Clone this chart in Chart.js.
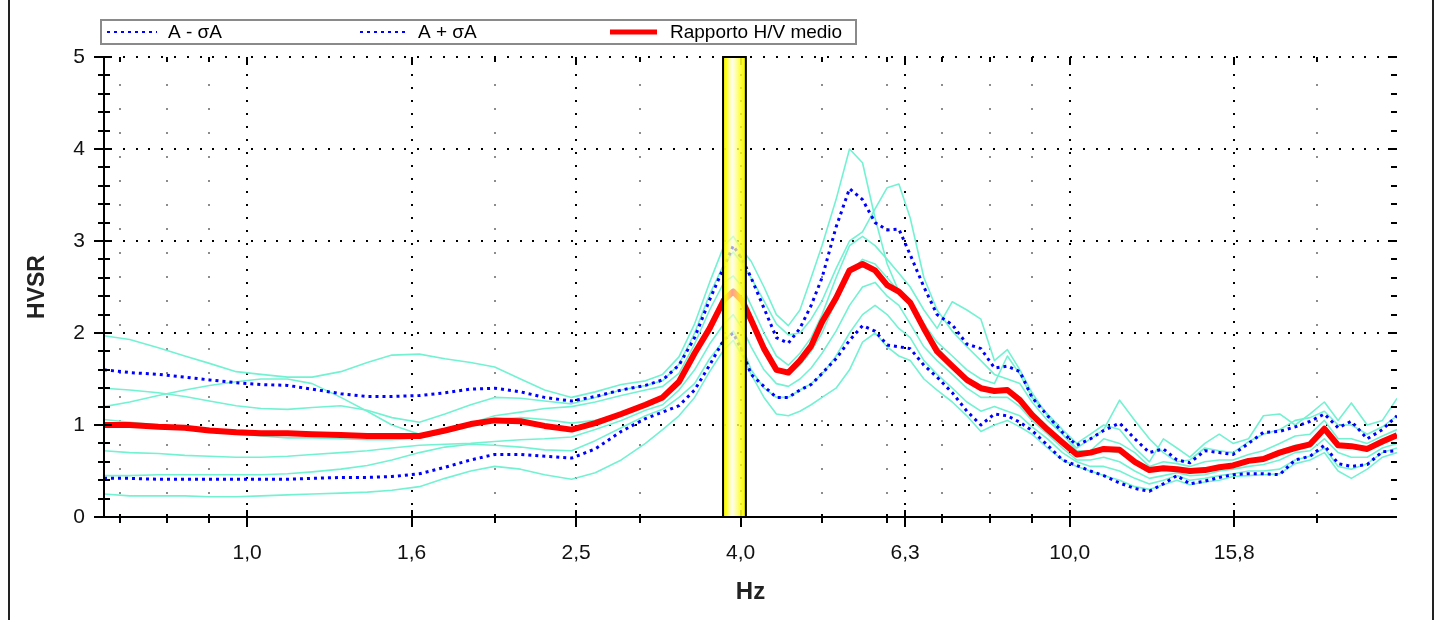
<!DOCTYPE html>
<html>
<head>
<meta charset="utf-8">
<script src="https://cdn.jsdelivr.net/npm/chart.js@4.4.1/dist/chart.umd.min.js"></script>
<style>
  html, body { margin: 0; padding: 0; background: #fff; }
  #wrap { position: relative; width: 1444px; height: 620px; }
  #frame { position: absolute; left: 8px; top: 0; width: 1426px; height: 620px;
           border-left: 2px solid #222; border-right: 2px solid #222;
           box-sizing: border-box; pointer-events: none; }
</style>
</head>
<body>
<div id="wrap">
  <canvas id="hvsr" width="1444" height="620"></canvas>
  <div id="frame"></div>
</div>
<script>
// Frequencies (Hz) shared by every curve
const freq = [0.67, 0.72, 0.78, 0.84, 0.90, 0.97, 1.04, 1.12, 1.20, 1.30,
  1.40, 1.50, 1.62, 1.74, 1.87, 2.00, 2.15, 2.30, 2.48, 2.65,
  2.85, 3.05, 3.20, 3.35, 3.50, 3.65, 3.80, 3.90, 4.00, 4.10,
  4.25, 4.40, 4.55, 4.70, 4.85, 5.00, 5.20, 5.40, 5.60, 5.80,
  6.00, 6.20, 6.40, 6.65, 6.90, 7.20, 7.50, 7.80, 8.10, 8.40,
  8.70, 9.00, 9.40, 9.80, 10.2, 10.6, 11.0, 11.5, 12.0, 12.5,
  13.0, 13.5, 14.0, 14.6, 15.2, 15.8, 16.5, 17.2, 18.0, 18.8,
  19.6, 20.4, 21.2, 22.0, 23.0, 24.0, 25.0];

// Mean H/V ratio
const hvMean = [1.00, 1.00, 0.98, 0.97, 0.94, 0.92, 0.91, 0.91, 0.90, 0.89,
  0.88, 0.88, 0.88, 0.94, 1.01, 1.05, 1.04, 0.99, 0.95, 1.02,
  1.12, 1.22, 1.30, 1.47, 1.78, 2.05, 2.36, 2.45, 2.35, 2.14,
  1.83, 1.60, 1.57, 1.70, 1.86, 2.12, 2.38, 2.68, 2.75, 2.68,
  2.52, 2.45, 2.33, 2.05, 1.80, 1.64, 1.49, 1.40, 1.37, 1.38,
  1.27, 1.11, 0.95, 0.81, 0.68, 0.70, 0.74, 0.73, 0.60, 0.51,
  0.53, 0.52, 0.50, 0.51, 0.54, 0.56, 0.61, 0.63, 0.70, 0.75,
  0.79, 0.96, 0.78, 0.77, 0.74, 0.82, 0.89];

// A + sigma A
const hvPlus = [1.60, 1.57, 1.55, 1.52, 1.49, 1.46, 1.44, 1.43, 1.39, 1.34,
  1.31, 1.31, 1.32, 1.35, 1.39, 1.40, 1.36, 1.30, 1.26, 1.31,
  1.38, 1.43, 1.49, 1.65, 1.95, 2.36, 2.72, 2.95, 2.80, 2.60,
  2.27, 1.95, 1.89, 2.05, 2.30, 2.60, 3.15, 3.57, 3.45, 3.20,
  3.12, 3.13, 2.85, 2.50, 2.20, 2.09, 1.88, 1.83, 1.62, 1.64,
  1.58, 1.30, 1.10, 0.92, 0.78, 0.85, 0.94, 1.02, 0.85, 0.70,
  0.74, 0.62, 0.59, 0.72, 0.70, 0.68, 0.80, 0.92, 0.93, 0.98,
  1.04, 1.12, 0.97, 1.04, 0.85, 0.95, 1.10];

// A - sigma A
const hvMinus = [0.42, 0.42, 0.41, 0.41, 0.41, 0.41, 0.41, 0.41, 0.42, 0.43,
  0.43, 0.44, 0.47, 0.54, 0.62, 0.68, 0.68, 0.66, 0.64, 0.74,
  0.93, 1.07, 1.14, 1.21, 1.38, 1.65, 1.93, 2.00, 1.80, 1.55,
  1.42, 1.30, 1.30, 1.38, 1.44, 1.56, 1.72, 1.92, 2.08, 2.02,
  1.87, 1.85, 1.83, 1.65, 1.52, 1.35, 1.15, 1.00, 1.12, 1.10,
  1.03, 0.94, 0.78, 0.62, 0.56, 0.50, 0.45, 0.37, 0.31, 0.28,
  0.36, 0.45, 0.36, 0.39, 0.43, 0.46, 0.47, 0.47, 0.46, 0.62,
  0.66, 0.78, 0.58, 0.55, 0.57, 0.71, 0.72];

// Single-window H/V curves
const win1 = [1.97, 1.93, 1.84, 1.75, 1.67, 1.58, 1.55, 1.52, 1.52, 1.58,
  1.68, 1.76, 1.77, 1.72, 1.68, 1.63, 1.50, 1.38, 1.30, 1.36,
  1.44, 1.48, 1.55, 1.74, 2.10, 2.55, 2.95, 3.05, 2.90, 2.78,
  2.50, 2.20, 2.08, 2.25, 2.60, 2.95, 3.45, 4.00, 3.85, 3.25,
  2.75, 2.45, 2.30, 2.10, 1.90, 1.75, 1.60, 1.50, 1.45, 1.75,
  1.55, 1.30, 1.12, 0.95, 0.80, 0.90, 1.00, 0.95, 0.75, 0.60,
  0.85, 0.75, 0.65, 0.80, 0.90, 0.80, 0.85, 1.10, 1.12, 1.00,
  1.12, 1.25, 1.05, 1.24, 1.00, 1.05, 1.29];
const win2 = [1.40, 1.38, 1.35, 1.31, 1.26, 1.21, 1.18, 1.17, 1.19, 1.21,
  1.16, 1.08, 1.03, 1.12, 1.22, 1.30, 1.29, 1.26, 1.23, 1.30,
  1.38, 1.43, 1.48, 1.66, 2.00, 2.42, 2.75, 2.88, 2.75, 2.60,
  2.35, 2.10, 1.98, 2.00, 2.15, 2.35, 2.70, 3.00, 3.10, 3.35,
  3.58, 3.62, 3.25, 2.60, 2.25, 2.02, 1.85, 1.70, 1.55, 1.50,
  1.45, 1.25, 1.05, 0.90, 0.75, 0.85, 0.95, 1.27, 1.05, 0.85,
  0.70, 0.60, 0.62, 0.75, 0.72, 0.70, 0.82, 0.90, 0.95, 1.05,
  1.08, 1.15, 1.00, 1.00, 0.90, 0.98, 1.10];
const win3 = [1.20, 1.25, 1.32, 1.38, 1.43, 1.47, 1.50, 1.50, 1.45, 1.30,
  1.15, 1.00, 0.90, 0.95, 1.02, 1.10, 1.14, 1.18, 1.20, 1.25,
  1.32, 1.38, 1.42, 1.56, 1.88, 2.25, 2.55, 2.62, 2.50, 2.30,
  2.00, 1.75, 1.65, 1.78, 1.95, 2.20, 2.60, 2.95, 3.05, 2.95,
  2.80, 2.65, 2.50, 2.25, 2.05, 2.34, 2.25, 2.15, 1.70, 1.82,
  1.60, 1.35, 1.10, 0.90, 0.72, 0.72, 0.85, 0.80, 0.70, 0.55,
  0.60, 0.58, 0.55, 0.60, 0.62, 0.62, 0.68, 0.72, 0.80, 0.88,
  0.90, 1.05, 0.85, 0.85, 0.80, 0.88, 0.95];
const win4 = [1.06, 1.03, 1.00, 0.96, 0.93, 0.90, 0.88, 0.86, 0.86, 0.85,
  0.84, 0.84, 0.86, 0.92, 0.98, 1.06, 1.08, 1.06, 1.02, 1.05,
  1.12, 1.20, 1.28, 1.46, 1.75, 2.10, 2.38, 2.48, 2.30, 2.10,
  1.80, 1.60, 1.55, 1.65, 1.80, 2.00, 2.35, 2.65, 2.80, 2.75,
  2.60, 2.45, 2.30, 2.05, 1.85, 1.65, 1.50, 1.40, 1.38, 1.40,
  1.30, 1.15, 0.98, 0.82, 0.68, 0.70, 0.72, 0.70, 0.60, 0.50,
  0.52, 0.52, 0.50, 0.52, 0.55, 0.57, 0.62, 0.65, 0.72, 0.78,
  0.80, 0.95, 0.78, 0.75, 0.72, 0.80, 0.88];
const win5 = [0.72, 0.70, 0.69, 0.67, 0.66, 0.65, 0.65, 0.66, 0.68, 0.70,
  0.72, 0.75, 0.78, 0.79, 0.80, 0.82, 0.84, 0.85, 0.87, 0.95,
  1.05, 1.16, 1.22, 1.38, 1.60, 1.88, 2.10, 2.20, 2.05, 1.85,
  1.60, 1.45, 1.42, 1.50, 1.62, 1.78, 2.02, 2.30, 2.50, 2.55,
  2.40, 2.30, 2.10, 1.85, 1.70, 1.55, 1.40, 1.30, 1.30, 1.30,
  1.20, 1.05, 0.90, 0.75, 0.62, 0.62, 0.65, 0.60, 0.50, 0.42,
  0.45, 0.48, 0.45, 0.46, 0.50, 0.52, 0.55, 0.57, 0.62, 0.70,
  0.72, 0.85, 0.70, 0.65, 0.65, 0.75, 0.80];
const win6 = [0.45, 0.45, 0.46, 0.46, 0.46, 0.46, 0.46, 0.47, 0.49, 0.52,
  0.56, 0.62, 0.70, 0.76, 0.79, 0.78, 0.76, 0.73, 0.72, 0.83,
  0.97, 1.10, 1.17, 1.30, 1.45, 1.72, 1.92, 2.02, 1.85, 1.60,
  1.40, 1.30, 1.30, 1.38, 1.45, 1.55, 1.75, 2.00, 2.20, 2.30,
  2.20, 2.05, 1.95, 1.70, 1.55, 1.40, 1.25, 1.15, 1.20, 1.15,
  1.10, 0.98, 0.85, 0.70, 0.60, 0.55, 0.55, 0.50, 0.42, 0.36,
  0.40, 0.45, 0.40, 0.42, 0.45, 0.47, 0.50, 0.50, 0.52, 0.62,
  0.66, 0.75, 0.55, 0.52, 0.58, 0.70, 0.75];
const win7 = [0.25, 0.23, 0.23, 0.23, 0.22, 0.22, 0.23, 0.24, 0.25, 0.26,
  0.27, 0.29, 0.33, 0.42, 0.50, 0.55, 0.52, 0.46, 0.41, 0.48,
  0.62, 0.80, 0.95, 1.10, 1.30, 1.58, 1.82, 1.92, 1.75, 1.55,
  1.30, 1.12, 1.10, 1.15, 1.22, 1.30, 1.40, 1.60, 1.90, 2.00,
  1.85, 1.75, 1.70, 1.50, 1.38, 1.25, 1.10, 0.93, 1.00, 1.05,
  0.98, 0.90, 0.75, 0.62, 0.55, 0.50, 0.45, 0.40, 0.33, 0.30,
  0.35, 0.40, 0.35, 0.38, 0.40, 0.44, 0.45, 0.46, 0.47, 0.58,
  0.62, 0.70, 0.50, 0.42, 0.52, 0.65, 0.70];

// Peak frequency band (Hz)
const peakBand = [3.79, 4.04];

// Axis ticks
const xTicks = [1, 1.585, 2.512, 3.981, 6.31, 10, 15.849];
const xTickLabels = ['1,0', '1,6', '2,5', '4,0', '6,3', '10,0', '15,8'];
const xMinorTicks = [0.7, 0.8, 0.9, 2, 3, 5, 6, 7, 8, 9, 20];
const yTicks = [0, 1, 2, 3, 4, 5];
const yMinorStep = 0.2;

const FONT = '"Liberation Sans", Arial, sans-serif';
const toPoints = arr => arr.map((v, i) => ({ x: freq[i], y: v }));

// dotted grid, axis lines and tick marks
const gridPlugin = {
    id: 'hvGrid',
    beforeDatasetsDraw(chart) {
        const { ctx, chartArea: a, scales: { x, y } } = chart;
        ctx.save();
        ctx.fillStyle = '#8c8c8c';
        xMinorTicks.forEach(v => {
            const px = Math.round(x.getPixelForValue(v));
            for (let py = a.bottom - 24; py > a.top + 4; py -= 24) ctx.fillRect(px - 1, py - 1, 2, 2);
        });
        ctx.fillStyle = '#000';
        xTicks.forEach(v => {
            const px = Math.round(x.getPixelForValue(v));
            for (let py = a.top + 4; py < a.bottom - 2; py += 13) ctx.fillRect(px - 1, py, 2, 2);
        });
        yTicks.slice(1).forEach(v => {
            const py = Math.round(y.getPixelForValue(v));
            for (let px = a.left + 6; px < a.right - 2; px += 12.8) ctx.fillRect(Math.round(px), py - 1, 2, 2);
        });
        ctx.restore();
    },
    afterDatasetsDraw(chart) {
        const { ctx, chartArea: a, scales: { x, y } } = chart;
        const line = (x0, y0, x1, y1) => { ctx.beginPath(); ctx.moveTo(x0, y0); ctx.lineTo(x1, y1); ctx.stroke(); };
        ctx.save();
        ctx.strokeStyle = '#000';
        ctx.lineWidth = 2;
        line(a.left, a.top, a.left, a.bottom);
        line(a.left - 9, a.bottom, a.right, a.bottom);
        for (let v = 0; v <= 5.001; v += yMinorStep) {
            const py = Math.round(y.getPixelForValue(v));
            const major = Math.abs(v - Math.round(v)) < 0.01;
            line(a.left - (major ? 10 : 6), py, a.left + (major ? 8 : 6), py);
            line(a.right - (major ? 9 : 6), py, a.right, py);
        }
        xTicks.forEach(v => {
            const px = Math.round(x.getPixelForValue(v));
            line(px, a.bottom - 7, px, a.bottom + 10);
            line(px, a.top, px, a.top + 8);
        });
        xMinorTicks.forEach(v => {
            const px = Math.round(x.getPixelForValue(v));
            line(px, a.bottom - 3, px, a.bottom + 6);
            line(px, a.top, px, a.top + 5);
        });

        // peak band
        const x0 = x.getPixelForValue(peakBand[0]);
        const x1 = x.getPixelForValue(peakBand[1]);
        const g = ctx.createLinearGradient(x0, 0, x1, 0);
        g.addColorStop(0, 'rgba(245,245,0,1)');
        g.addColorStop(0.15, 'rgba(255,255,20,0.92)');
        g.addColorStop(0.4, 'rgba(255,255,225,0.62)');
        g.addColorStop(0.75, 'rgba(255,255,40,0.88)');
        g.addColorStop(1, 'rgba(240,240,0,1)');
        ctx.fillStyle = g;
        ctx.fillRect(x0, a.top, x1 - x0, a.bottom - a.top);
        ctx.strokeRect(x0, a.top, x1 - x0, a.bottom - a.top);
        ctx.restore();
    }
};

// boxed legend at the top
const legendPlugin = {
    id: 'hvLegend',
    afterDraw(chart) {
        const { ctx } = chart;
        const ds = chart.data.datasets;
        const items = [
            { d: ds[2], x0: 107, x1: 157, tx: 168 },
            { d: ds[1], x0: 360, x1: 407, tx: 418 },
            { d: ds[0], x0: 610, x1: 657, tx: 670 }
        ];
        ctx.save();
        ctx.fillStyle = '#fff';
        ctx.fillRect(101, 20, 755, 24);
        ctx.strokeStyle = '#8a8a8a';
        ctx.lineWidth = 2;
        ctx.strokeRect(101, 20, 755, 24);
        const cy = 32;
        items.forEach(it => {
            ctx.strokeStyle = it.d.borderColor;
            ctx.lineWidth = it.d.borderDash ? 2 : 5;
            ctx.setLineDash(it.d.borderDash || []);
            ctx.beginPath(); ctx.moveTo(it.x0, cy); ctx.lineTo(it.x1, cy); ctx.stroke();
            ctx.setLineDash([]);
            ctx.fillStyle = '#000';
            ctx.font = '19px ' + FONT;
            ctx.textBaseline = 'middle';
            ctx.fillText(it.d.label, it.tx, cy + 1);
        });
        ctx.restore();
    }
};

const cyan = 'rgb(115,242,210)';
const windows = [win1, win2, win3, win4, win5, win6, win7];

new Chart(document.getElementById('hvsr').getContext('2d'), {
    type: 'line',
    data: {
        datasets: [
            { label: 'Rapporto H/V medio', data: toPoints(hvMean), borderColor: '#ff0000', borderWidth: 6 },
            { label: 'A + σA', data: toPoints(hvPlus), borderColor: '#0000ff', borderWidth: 3, borderDash: [3, 4] },
            { label: 'A - σA', data: toPoints(hvMinus), borderColor: '#0000ff', borderWidth: 3, borderDash: [3, 4] },
            ...windows.map((w, i) => ({ label: 'win' + (i + 1), data: toPoints(w), borderColor: cyan, borderWidth: 1.6 }))
        ]
    },
    options: {
        responsive: false,
        animation: false,
        elements: { point: { radius: 0 }, line: { tension: 0, borderJoinStyle: 'round' } },
        layout: { padding: { left: 0, right: 47, top: 57, bottom: 0 } },
        plugins: { legend: { display: false }, tooltip: { enabled: false } },
        scales: {
            x: {
                type: 'logarithmic',
                min: 0.67,
                max: 25,
                grid: { display: false, drawTicks: false },
                border: { display: false },
                afterBuildTicks: s => { s.ticks = xTicks.map(v => ({ value: v })); },
                afterFit: s => { s.height = 103; },
                ticks: {
                    autoSkip: false, maxRotation: 0, padding: 24, color: '#111',
                    font: { family: FONT, size: 21 },
                    callback: v => { const i = xTicks.indexOf(v); return i >= 0 ? xTickLabels[i] : ''; }
                },
                title: { display: true, text: 'Hz', color: '#222', font: { family: FONT, size: 24, weight: 'bold' }, padding: { top: 0, bottom: 13 } }
            },
            y: {
                min: 0,
                max: 5,
                grid: { display: false, drawTicks: false },
                border: { display: false },
                afterBuildTicks: s => { s.ticks = yTicks.map(v => ({ value: v })); },
                afterFit: s => { s.width = 104; },
                ticks: { padding: 19, color: '#111', font: { family: FONT, size: 21 } },
                title: { display: true, text: 'HVSR', color: '#222', font: { family: FONT, size: 23, weight: 'bold' }, padding: { top: 24, bottom: 0 } }
            }
        }
    },
    plugins: [gridPlugin, legendPlugin]
});
</script>
</body>
</html>
